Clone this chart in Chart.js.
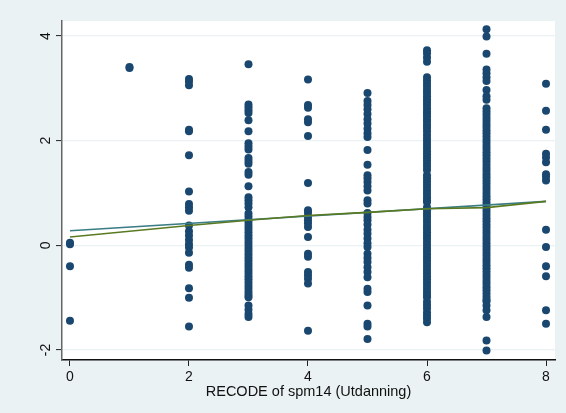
<!DOCTYPE html>
<html>
<head>
<meta charset="utf-8">
<script src="https://cdn.jsdelivr.net/npm/chart.js@4.4.1/dist/chart.umd.min.js"></script>
<style>
  html, body { margin: 0; padding: 0; background: #eaf2f3; }
  #wrap { width: 566px; height: 413px; }
</style>
</head>
<body>
<div id="wrap"><canvas id="grafico"></canvas></div>
<script>
// x-categories (RECODE of spm14) and the y values
const xCats = [0, 1, 2, 3, 4, 5, 6, 7, 8];
const col0 = [0.05, 0.02, -0.40, -1.44];
const col1 = [3.39, 3.41];
const col2 = [3.18, 3.13, 3.06, 2.21, 2.18, 1.72, 1.03, 0.79, 0.73, 0.66, 0.38, 0.27, 0.19, 0.10, 0.02, -0.04, -0.14, -0.37, -0.43, -0.82, -1.00, -1.55];
const col3 = [3.46, 2.69, 2.64, 2.58, 2.53, 2.39, 2.18, 1.95, 1.89, 1.83, 1.67, 1.61, 1.56, 1.40, 1.35, 1.13, 0.92, 0.86, 0.80, 0.73,
  0.61, 0.55, 0.49, 0.43, 0.37, 0.31, 0.25, 0.19, 0.13, 0.07, 0.01, -0.05, -0.11, -0.17, -0.23, -0.29, -0.35, -0.41, -0.47,
  -0.53, -0.59, -0.65, -0.71, -0.77, -0.83, -0.89, -0.95, -0.99, -1.15, -1.23, -1.31, -1.37];
const col4 = [3.17, 2.68, 2.63, 2.41, 2.35, 2.09, 1.19, 0.67, 0.62, 0.54, 0.48, 0.42, 0.35, 0.16, -0.16, -0.22, -0.51, -0.57, -0.64, -0.73, -1.63];
const col5 = [2.91, 2.76, 2.68, 2.60, 2.51, 2.41, 2.33, 2.23, 2.14, 2.07, 1.82, 1.54, 1.34, 1.28, 1.21, 1.13, 1.05, 0.86, 0.80,
  0.62, 0.54, 0.48, 0.40, 0.30, 0.22, 0.13, 0.04, -0.03, -0.16, -0.24, -0.32, -0.42, -0.51, -0.61, -0.83, -0.89, -1.15, -1.50, -1.55, -1.79];
const col6 = [3.73, 3.67, 3.59, 3.51,
  3.21, 3.15, 3.09, 3.03, 2.97, 2.91, 2.85, 2.79, 2.74, 2.68, 2.62, 2.56, 2.52, 2.46, 2.40, 2.36, 2.30, 2.24, 2.18, 2.11,
  2.04, 1.98, 1.92, 1.86, 1.80, 1.74, 1.68, 1.62, 1.56, 1.50, 1.44, 1.34, 1.28, 1.22, 1.16, 1.10, 1.04, 0.98, 0.92, 0.86, 0.83,
  0.73, 0.67, 0.61, 0.55, 0.49, 0.43, 0.37, 0.31, 0.25, 0.19, 0.13, 0.07, 0.01, -0.05, -0.11, -0.17, -0.23, -0.29, -0.35,
  -0.41, -0.47, -0.53, -0.59, -0.65, -0.71, -0.77, -0.83, -0.89, -0.95, -0.99, -1.08, -1.14, -1.20, -1.28, -1.34, -1.40, -1.47];
const col7 = [4.13, 3.99, 3.66, 3.36, 3.29, 3.21, 3.14, 2.97, 2.85, 2.78,
  2.62, 2.56, 2.50, 2.44, 2.38, 2.32, 2.26, 2.20, 2.14, 2.08, 2.02, 1.96, 1.90, 1.84, 1.78, 1.72, 1.66, 1.60, 1.54, 1.48,
  1.42, 1.36, 1.30, 1.24, 1.18, 1.12, 1.06, 1.00, 0.94, 0.88, 0.82, 0.76, 0.70, 0.64, 0.58, 0.52, 0.46, 0.40, 0.34, 0.28,
  0.22, 0.16, 0.10, 0.04, -0.02, -0.08, -0.14, -0.20, -0.26, -0.32, -0.38, -0.44, -0.50, -0.56, -0.62, -0.68, -0.74, -0.80,
  -0.86, -0.92, -0.98, -1.04, -1.07, -1.15, -1.24, -1.37, -1.82, -2.01];
const col8 = [3.09, 2.57, 2.21, 1.75, 1.68, 1.59, 1.36, 1.31, 1.24, 0.30, -0.03, -0.40, -0.59, -1.24, -1.50];
const columns = [col0, col1, col2, col3, col4, col5, col6, col7, col8];

// fitted lines
const fitX = [0, 8];
const fitY = [0.28, 0.84];
const smoothX = [0, 2, 3, 4, 5, 6, 7, 8];
const smoothY = [0.16, 0.38, 0.48, 0.57, 0.63, 0.70, 0.72, 0.84];

// tick labels
const xTicks = [0, 2, 4, 6, 8];
const yTicks = [-2, 0, 2, 4];

const pontos = [];
columns.forEach(function(col, i) {
    col.forEach(function(v) { pontos.push({ x: xCats[i], y: v }); });
});

// fundo cinza + area branca do grafico
const fundo = {
    id: 'fundo',
    beforeDraw: function(chart) {
        const c = chart.ctx;
        const a = chart.chartArea;
        c.save();
        c.fillStyle = '#eaf2f3';
        c.fillRect(0, 0, chart.width, chart.height);
        c.fillStyle = '#ffffff';
        c.fillRect(a.left, a.top, a.right - a.left, a.bottom - a.top);
        c.restore();
    }
};

const ctx = document.getElementById('grafico').getContext('2d');
Chart.defaults.font.family = '"Liberation Sans", Arial, sans-serif';

const grafico = new Chart(ctx, {
    type: 'scatter',
    data: {
        datasets: [
            {
                label: 'fit',
                type: 'line',
                data: fitX.map(function(x, i) { return { x: x, y: fitY[i] }; }),
                borderColor: '#3b7d84',
                borderWidth: 1.6,
                pointRadius: 0,
                fill: false,
                order: 1
            },
            {
                label: 'smooth',
                type: 'line',
                data: smoothX.map(function(x, i) { return { x: x, y: smoothY[i] }; }),
                borderColor: '#5a7a22',
                borderWidth: 1.6,
                pointRadius: 0,
                fill: false,
                order: 0
            },
            {
                label: 'pontos',
                data: pontos,
                backgroundColor: '#1a476f',
                borderWidth: 0,
                pointRadius: 4,
                order: 2
            }
        ]
    },
    options: {
        responsive: true,
        maintainAspectRatio: false,
        animation: false,
        layout: { padding: { top: 21, right: 11, left: 0, bottom: 0 } },
        plugins: {
            legend: { display: false },
            tooltip: { enabled: false }
        },
        scales: {
            x: {
                type: 'linear',
                min: -0.134,
                max: 8.151,
                afterFit: function(s) { s.height = 53; },
                afterBuildTicks: function(s) { s.ticks = xTicks.map(function(v) { return { value: v }; }); },
                grid: { drawOnChartArea: false, tickLength: 6, tickColor: '#222', tickWidth: 1 },
                border: { color: '#111', width: 1.5 },
                ticks: { color: '#111', font: { size: 14 }, padding: 3, maxRotation: 0 },
                title: {
                    display: true,
                    text: 'RECODE of spm14 (Utdanning)',
                    color: '#111',
                    font: { size: 14.5 },
                    padding: { top: 0, bottom: 12 }
                }
            },
            y: {
                type: 'linear',
                min: -2.191,
                max: 4.287,
                afterFit: function(s) { s.width = 62; },
                afterBuildTicks: function(s) { s.ticks = yTicks.map(function(v) { return { value: v }; }); },
                grid: { color: '#eaf2f3', lineWidth: 1.2, tickLength: 6, tickColor: '#222', tickWidth: 1 },
                border: { color: '#666', width: 1.5 },
                ticks: { color: '#111', font: { size: 14 }, padding: 4, minRotation: 90, maxRotation: 90, crossAlign: 'center' }
            }
        }
    },
    plugins: [fundo]
});
</script>
</body>
</html>
